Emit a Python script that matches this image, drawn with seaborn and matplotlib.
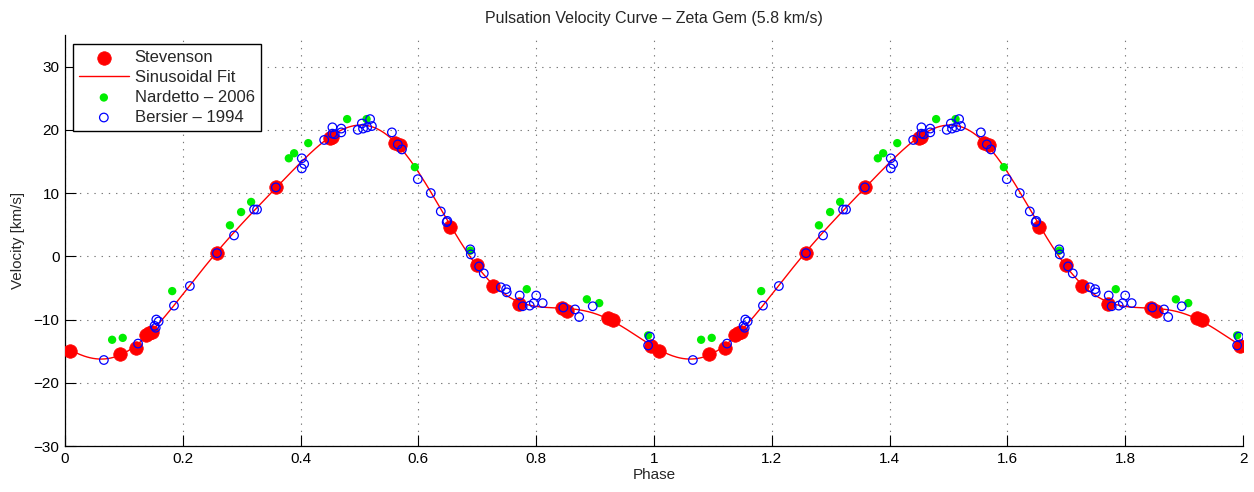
import numpy as np
import pandas as pd
import matplotlib
matplotlib.use("Agg")
import matplotlib.pyplot as plt
import seaborn as sns

# ---- data (phase in [0,1), velocity km/s) ----
stev_phase = [0.008, 0.093, 0.12, 0.137, 0.143, 0.148, 0.258, 0.358, 0.45, 0.453,
              0.56, 0.569, 0.654, 0.699, 0.727, 0.771, 0.844, 0.852, 0.922, 0.93, 0.995]
stev_vel = [-15.0, -15.5, -14.5, -12.5, -12.2, -12.0, 0.5, 10.9, 18.7, 18.9,
            17.9, 17.6, 4.6, -1.3, -4.7, -7.6, -8.2, -8.7, -9.8, -10.1, -14.2]

nard_phase = [0.08, 0.098, 0.182, 0.28, 0.299, 0.316, 0.38, 0.389, 0.413, 0.479,
              0.512, 0.594, 0.688, 0.784, 0.886, 0.907, 0.99]
nard_vel = [-13.2, -12.9, -5.5, 4.9, 7.0, 8.6, 15.5, 16.3, 17.9, 21.7,
            21.7, 14.1, 0.9, -5.2, -6.8, -7.4, -12.5]

bers_phase = [0.066, 0.124, 0.152, 0.154, 0.155, 0.159, 0.185, 0.212, 0.258, 0.287,
              0.321, 0.326, 0.358, 0.402, 0.406, 0.402, 0.44, 0.454, 0.454, 0.458,
              0.469, 0.469, 0.497, 0.504, 0.506, 0.513, 0.518, 0.521, 0.555, 0.565,
              0.572, 0.599, 0.621, 0.638, 0.648, 0.649, 0.688, 0.689, 0.703, 0.711,
              0.74, 0.749, 0.75, 0.772, 0.777, 0.789, 0.796, 0.8, 0.811, 0.846,
              0.866, 0.873, 0.896, 0.99, 0.993]
bers_vel = [-16.4, -13.8, -11.0, -11.3, -10.0, -10.3, -7.8, -4.7, 0.5, 3.3,
            7.4, 7.4, 10.9, 15.5, 14.6, 13.9, 18.4, 20.4, 19.4, 19.3,
            20.2, 19.6, 20.0, 21.0, 20.2, 20.4, 21.7, 20.6, 19.6, 17.7,
            16.9, 12.2, 10.0, 7.1, 5.4, 5.6, 1.1, 0.3, -1.6, -2.7,
            -4.9, -5.2, -5.7, -6.2, -7.9, -7.8, -7.4, -6.2, -7.4, -8.1,
            -8.4, -9.6, -7.9, -14.1, -12.7]

x_ticks = [0, 0.2, 0.4, 0.6, 0.8, 1.0, 1.2, 1.4, 1.6, 1.8, 2.0]
x_ticklabels = ["0", "0.2", "0.4", "0.6", "0.8", "1", "1.2", "1.4", "1.6", "1.8", "2"]
y_ticks = [-30, -20, -10, 0, 10, 20, 30]
y_ticklabels = ["\u221230", "\u221220", "\u221210", "0", "10", "20", "30"]


def two_cycles(ph, v):
    ph = np.asarray(ph, float)
    v = np.asarray(v, float)
    return pd.DataFrame({"phase": np.concatenate([ph, ph + 1]),
                         "vel": np.concatenate([v, v])})


df_s = two_cycles(stev_phase, stev_vel)
df_n = two_cycles(nard_phase, nard_vel)
df_b = two_cycles(bers_phase, bers_vel)

# Fourier (sinusoidal) least-squares fit to the measurements
allp = np.concatenate([stev_phase, nard_phase, bers_phase])
allv = np.concatenate([stev_vel, nard_vel, bers_vel])
w = np.concatenate([np.full(len(stev_phase), 3.0), np.full(len(nard_phase), 0.5),
                    np.full(len(bers_phase), 1.0)])
order = 4


def design(p):
    cols = [np.ones_like(p)]
    for k in range(1, order + 1):
        cols += [np.cos(2 * np.pi * k * p), np.sin(2 * np.pi * k * p)]
    return np.column_stack(cols)


coef, *_ = np.linalg.lstsq(design(allp) * w[:, None], allv * w, rcond=None)
fit_p = np.linspace(0, 2, 800)
df_fit = pd.DataFrame({"phase": fit_p, "vel": design(fit_p) @ coef})

# ---- plot ----
sns.set_theme(style="white")
plt.rcParams["font.family"] = ["Liberation Sans", "DejaVu Sans"]
plt.rcParams["axes.unicode_minus"] = True

fig = plt.figure(figsize=(12.54, 4.92), dpi=100)
ax = fig.add_axes([65 / 1254, 1 - 446 / 492, (1243 - 65) / 1254, (446 - 35) / 492])

sns.scatterplot(data=df_s, x="phase", y="vel", ax=ax, color="#ff0000", s=95,
                edgecolor="#ff0000", linewidth=0.5, label="Stevenson", zorder=3)
sns.lineplot(data=df_fit, x="phase", y="vel", ax=ax, color="#ff0000", lw=1.0,
             label="Sinusoidal Fit", zorder=4)
sns.scatterplot(data=df_n, x="phase", y="vel", ax=ax, color="#00ee00", s=36,
                edgecolor="none", label="Nardetto \u2013 2006", zorder=5)
sns.scatterplot(data=df_b, x="phase", y="vel", ax=ax, marker="o", s=38,
                facecolor="none", edgecolor="#0000ff", linewidth=0.9,
                label="Bersier \u2013 1994", zorder=6)

ax.set_xlim(0, 2)
ax.set_ylim(-30, 35)
ax.set_xticks(x_ticks)
ax.set_xticklabels(x_ticklabels)
ax.set_yticks(y_ticks)
ax.set_yticklabels(y_ticklabels)
ax.tick_params(direction="in", length=8, width=0.8, colors="black", labelsize=11,
               top=False, right=False, bottom=True, left=True, pad=4)
ax.grid(True, linestyle=(0, (1.2, 5.3)), color="#777777", linewidth=0.8)
ax.spines["top"].set_visible(False)
ax.spines["right"].set_visible(False)
for sp in ("left", "bottom"):
    ax.spines[sp].set_color("black")
    ax.spines[sp].set_linewidth(0.9)

ax.set_xlabel("Phase", fontsize=11, labelpad=2)
ax.set_ylabel("Velocity [km/s]", fontsize=11, labelpad=6)
ax.set_title("Pulsation Velocity Curve \u2013 Zeta Gem (5.8 km/s)", fontsize=11.5, pad=9)

leg = ax.legend(loc="upper left", bbox_to_anchor=(0.0068, 0.978), fontsize=12,
                frameon=True, fancybox=False, edgecolor="black", framealpha=1,
                handlelength=3.0, handletextpad=0.35, borderpad=0.35, labelspacing=0.3,
                borderaxespad=0)
leg.get_frame().set_linewidth(1.0)

fig.savefig("out.png", dpi=100)
